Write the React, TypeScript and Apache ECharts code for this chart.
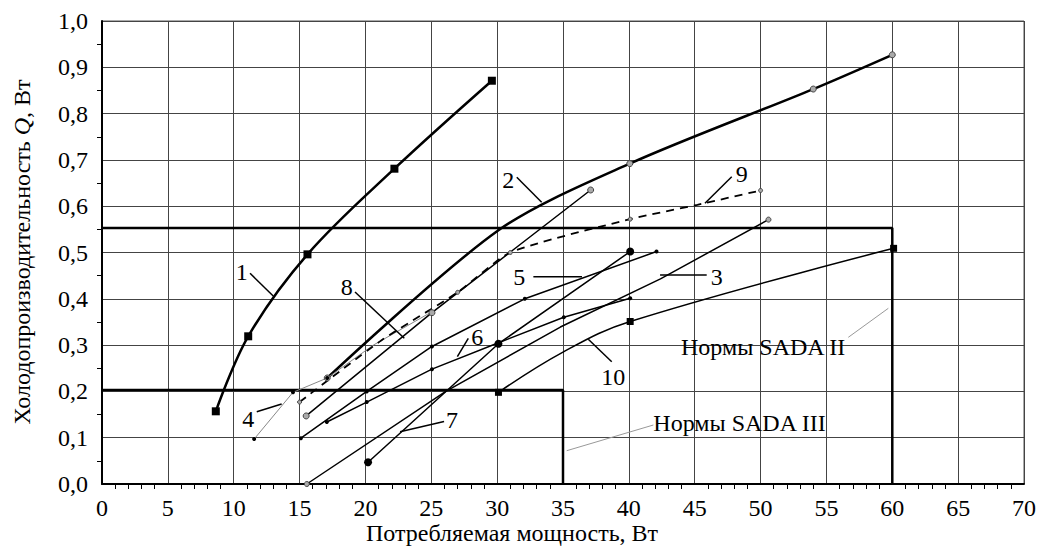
import React, { useEffect, useRef } from "react";
import * as echarts from "echarts";

// ---- data (x: Потребляемая мощность, Вт; y: Q, Вт) ----
const curve1 = [[8.64, 0.157], [11.1, 0.319], [15.6, 0.496], [22.2, 0.681], [29.6, 0.871]];
const curve2 = [[17.1, 0.229], [30.1, 0.548], [40.07, 0.692], [54.0, 0.853], [60.0, 0.927]];
const curve3 = [[15.55, 0.0], [26.1, 0.2], [34.8, 0.339], [42.4, 0.443], [50.6, 0.571]];
const curve4 = [[11.55, 0.097], [14.5, 0.198], [17.1, 0.229], [20.6, 0.3], [25.05, 0.372]];
const curve5 = [[15.1, 0.099], [20.1, 0.2], [25.05, 0.297], [32.1, 0.4], [42.1, 0.502]];
const curve6 = [[17.07, 0.134], [20.1, 0.177], [25.05, 0.248], [30.1, 0.305], [35.06, 0.36], [40.1, 0.401]];
const curve7 = [[20.2, 0.047], [30.1, 0.303], [40.1, 0.502]];
const curve8 = [[15.5, 0.147], [25.05, 0.37], [37.1, 0.635]];
const curve9 = [[15.0, 0.177], [21.2, 0.31], [27.0, 0.414], [31.0, 0.5], [40.1, 0.572], [45.2, 0.603], [50.0, 0.634]];
const curve10 = [[30.1, 0.198], [35.0, 0.285], [40.1, 0.351], [60.1, 0.509]];

const sadaIII = [[0, 0.203], [35, 0.203], [35, 0]];
const sadaII = [[0, 0.553], [60, 0.553], [60, 0]];

const X_MIN = 0, X_MAX = 70, X_STEP = 5;
const Y_MIN = 0, Y_MAX = 1, Y_STEP = 0.1;

const xTitle = "Потребляемая мощность, Вт";
const yTitleParts = ["Холодопроизводительность ", "Q", ", Вт"];

// curve labels (text anchor and leader line, in data units)
const curveLabels = ["1", "2", "3", "4", "5", "6", "7", "8", "9", "10"];
const curveLabelAt = [
  [10.61, 0.4585], [30.85, 0.6566], [46.67, 0.4477], [11.11, 0.1397], [31.68, 0.4477],
  [28.49, 0.3181], [26.57, 0.1382], [18.58, 0.4261], [48.57, 0.6695], [38.82, 0.2317],
];
const curveLeaders = [
  [[11.24, 0.455], [13.0, 0.406]],
  [[31.49, 0.6624], [33.38, 0.6084]],
  [[45.91, 0.4514], [42.37, 0.4514]],
  [[11.75, 0.1562], [13.64, 0.1728]],
  [[32.75, 0.4477], [36.44, 0.4477]],
  [[27.81, 0.3147], [26.98, 0.2749]],
  [[25.97, 0.135], [22.63, 0.113]],
  [[19.21, 0.4147], [22.95, 0.3147]],
  [[47.81, 0.6637], [45.78, 0.6063]],
  [[38.7, 0.2641], [36.92, 0.3125]],
];
const normLabels = ["Нормы SADA II", "Нормы SADA III"];
const normLabelAt = [[43.96, 0.2952], [41.86, 0.1311]];
const normLeaders = [
  [[56.66, 0.3168], [59.7, 0.3795]],
  [[35.28, 0.0719], [41.86, 0.1274]],
];

const FONT = "'Liberation Serif', 'Times New Roman', serif";

type Pt = number[];

function withMarks(data: Pt[], marked: number[], size: number) {
  return data.map((p, i) => ({ value: p, symbolSize: marked.includes(i) ? size : 0 }));
}

const blackDot = { color: "#000" };
const grayRing = { color: "#aaa", borderColor: "#444", borderWidth: 1 };

function curve(name: string, data: any[], o: any) {
  return {
    type: "line",
    name,
    data,
    symbol: o.symbol || "circle",
    showSymbol: o.noSymbol ? false : true,
    smooth: o.smooth ?? false,
    lineStyle: { color: o.color || "#000", width: o.width || 1.5, type: o.dash ? [8, 6] : "solid" },
    itemStyle: o.item || blackDot,
    z: o.z || 3,
    silent: true,
  };
}

export default function App() {
  const ref = useRef<HTMLDivElement>(null);
  useEffect(() => {
    if (!ref.current) return;
    const chart = echarts.init(ref.current, null, { renderer: "svg" });
    const axisFont = { fontFamily: FONT, fontSize: 24, color: "#000" };
    chart.setOption({
      animation: false,
      backgroundColor: "#fff",
      grid: { left: 102, right: 17, top: 21, bottom: 72, show: true, borderColor: "#555", borderWidth: 1 },
      xAxis: {
        type: "value", min: X_MIN, max: X_MAX, interval: X_STEP,
        axisLine: { show: true, onZero: false, lineStyle: { color: "#000", width: 2 } },
        axisTick: { show: false },
        minorTick: { show: true, splitNumber: 5, length: 5, lineStyle: { color: "#000", width: 1 } },
        splitLine: { show: true, lineStyle: { color: "#444", width: 1 } },
        axisLabel: { ...axisFont, margin: 12, formatter: (v: number) => String(v) },
      },
      yAxis: {
        type: "value", min: Y_MIN, max: Y_MAX, interval: Y_STEP,
        axisLine: { show: true, onZero: false, lineStyle: { color: "#000", width: 2 } },
        axisTick: { show: false },
        minorTick: { show: true, splitNumber: 2, length: 5, lineStyle: { color: "#000", width: 1 } },
        splitLine: { show: true, lineStyle: { color: "#444", width: 1 } },
        axisLabel: { ...axisFont, margin: 14, formatter: (v: number) => v.toFixed(1).replace(".", ",") },
      },
      series: [
        curve("SADA III", sadaIII, { width: 2.5, noSymbol: true, z: 2 }),
        curve("SADA II", sadaII, { width: 2.5, noSymbol: true, z: 2 }),
        { ...curve("1", withMarks(curve1, [0, 1, 2, 3, 4], 8), { width: 2.5, smooth: 0.35 }), symbol: "rect" },
        curve("2", withMarks(curve2, [0, 2, 3, 4], 6), { width: 2.5, smooth: 0.3, item: grayRing }),
        curve("3", withMarks(curve3, [0, 4], 5), { width: 1.5, item: grayRing }),
        curve("4", withMarks(curve4, [0, 1, 2], 4), { width: 1, color: "#888" }),
        curve("5", withMarks(curve5, [0, 1, 2, 3, 4], 4), { width: 1.5 }),
        curve("6", withMarks(curve6, [0, 1, 2, 3, 4, 5], 4), { width: 1.5 }),
        curve("7", withMarks(curve7, [0, 1, 2], 8), { width: 1.5 }),
        curve("8", withMarks(curve8, [0, 1, 2], 6), { width: 1.5, item: grayRing }),
        curve("9", withMarks(curve9, [0, 2, 3, 4, 6], 4), { width: 1.8, dash: true, smooth: 0.2, item: grayRing }),
        { ...curve("10", withMarks(curve10, [0, 2, 3], 7), { width: 1.5, smooth: 0.4 }), symbol: "rect" },
      ],
    });

    const P = (p: number[]) => chart.convertToPixel({ xAxisIndex: 0, yAxisIndex: 0 }, p) as number[];
    const graphic: any[] = [];
    curveLabels.forEach((t, i) => {
      const a = P(curveLeaders[i][0]);
      const b = P(curveLeaders[i][1]);
      graphic.push({ type: "line", shape: { x1: a[0], y1: a[1], x2: b[0], y2: b[1] }, style: { stroke: "#000", lineWidth: 1.5 }, z: 10 });
      const c = P(curveLabelAt[i]);
      graphic.push({ type: "text", x: c[0], y: c[1], style: { text: t, font: `24px ${FONT}`, fill: "#000", align: "center", verticalAlign: "middle" }, z: 11 });
    });
    normLabels.forEach((t, i) => {
      const a = P(normLeaders[i][0]);
      const b = P(normLeaders[i][1]);
      graphic.push({ type: "line", shape: { x1: a[0], y1: a[1], x2: b[0], y2: b[1] }, style: { stroke: "#999", lineWidth: 1 }, z: 10 });
      const c = P(normLabelAt[i]);
      graphic.push({ type: "text", x: c[0], y: c[1], style: { text: t, font: `24px ${FONT}`, fill: "#000", align: "left", verticalAlign: "middle" }, z: 11 });
    });
    graphic.push({
      type: "text", x: 512, y: 533,
      style: { text: xTitle, font: `24px ${FONT}`, fill: "#000", align: "center", verticalAlign: "middle" },
    });
    graphic.push({
      type: "text", x: 22, y: 252, rotation: Math.PI / 2,
      style: {
        text: `{a|${yTitleParts[0]}}{q|${yTitleParts[1]}}{a|${yTitleParts[2]}}`,
        align: "center", verticalAlign: "middle",
        rich: {
          a: { fontFamily: FONT, fontSize: 24, fill: "#000", color: "#000" },
          q: { fontFamily: FONT, fontSize: 24, fontStyle: "italic", fill: "#000", color: "#000" },
        },
      },
    });
    chart.setOption({ graphic });
    return () => chart.dispose();
  }, []);
  return <div ref={ref} style={{ position: "fixed", left: 0, top: 0, width: 1041, height: 556, background: "#fff" }} />;
}
